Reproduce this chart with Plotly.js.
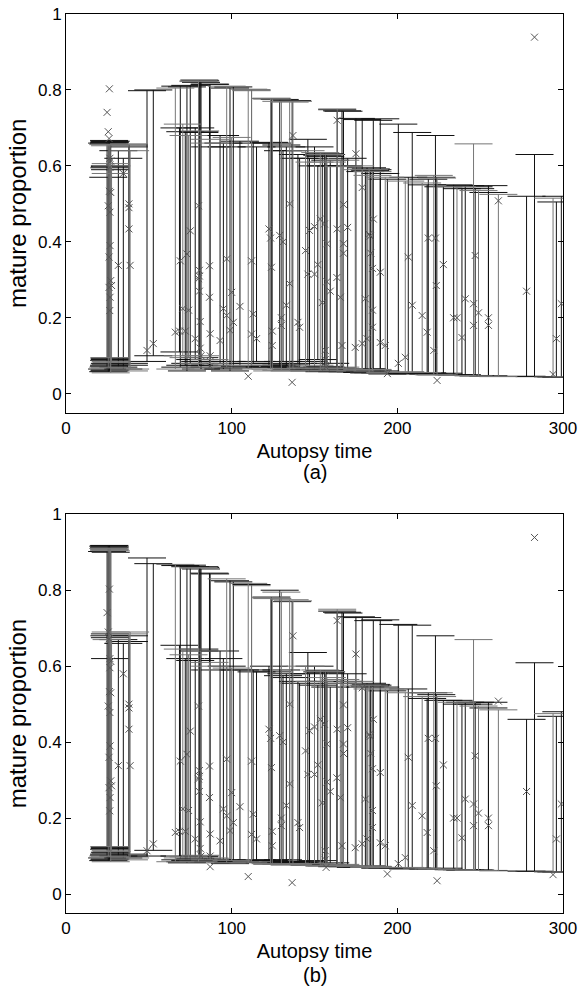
<!DOCTYPE html>
<html>
<head>
<meta charset="utf-8">
<script src="https://cdn.plot.ly/plotly-3.0.1.min.js"></script>
<style>html,body{margin:0;padding:0;background:#fff;}#chart{width:580px;height:989px;}</style>
</head>
<body>
<div id="chart"></div>
<script>
// Autopsy time of each individual
const autopsyTime = [
 26.2,24.8,25.5,26.0,26.5,27.0,26.5,26.2,27.0,25.5,26.5,26.6,26.0,27.0,27.5,26.0,26.6,26.4,
 31.6,34.6,38.0,38.0,38.0,38.7,
 48.9,52.7,
 66.0,68.5,69.0,70.5,72.0,73.0,74.0,75.0,78.0,
 80.0,80.5,80.5,80.0,80.5,81.0,81.0,81.5,86.6,86.6,87.0,87.0,87.0,
 93.0,95.0,97.0,97.0,99.0,100.0,101.0,105.0,110.0,112.0,113.0,112.0,115.0,
 122.5,123.5,124.0,124.5,124.5,129.0,131.0,130.0,130.0,133.0,135.0,135.0,136.5,137.0,140.0,141.0,
 144.6,146.0,147.0,150.0,150.0,152.0,153.5,154.7,156.0,156.5,156.5,157.0,157.5,157.5,159.5,
 163.7,163.5,163.7,165.6,166.6,167.5,167.5,167.5,170.0,
 174.6,175.0,178.8,178.8,180.7,181.7,183.0,183.6,184.0,185.0,185.0,185.5,185.0,189.7,189.7,192.7,194.0,
 200.6,204.8,206.6,209.0,215.0,218.0,218.7,222.0,223.0,223.5,224.0,227.8,
 234.0,236.0,239.0,241.0,246.0,246.0,247.0,249.0,255.0,255.0,261.0,
 278.0,282.8,294.0,296.0,299.0
];
// Observed mature proportion
const matureObs = [
 0.803,0.741,0.690,0.672,0.620,0.613,0.596,0.533,0.530,0.495,0.478,0.390,0.360,0.298,0.285,0.280,0.254,0.219,
 0.338,0.580,0.500,0.490,0.434,0.338,
 0.114,0.132,
 0.162,0.165,0.350,0.224,0.165,0.368,0.220,0.429,0.145,
 0.495,0.325,0.310,0.303,0.270,0.190,0.120,0.100,0.337,0.254,0.158,0.100,0.072,
 0.140,0.224,0.355,0.206,0.167,0.267,0.188,0.230,0.046,0.350,0.210,0.157,0.145,
 0.434,0.410,0.333,0.165,0.127,0.417,0.400,0.200,0.180,0.233,0.500,0.290,0.030,0.680,0.188,0.175,
 0.377,0.315,0.430,0.315,0.440,0.340,0.460,0.240,0.447,0.114,0.090,0.070,0.395,0.295,0.270,
 0.720,0.306,0.434,0.254,0.127,0.498,0.395,0.370,0.438,
 0.122,0.632,0.543,0.132,0.250,0.145,0.420,0.415,0.370,0.330,0.220,0.460,0.175,0.320,0.135,0.127,0.053,
 0.080,0.096,0.360,0.233,0.206,0.162,0.410,0.114,0.410,0.285,0.035,0.340,
 0.200,0.200,0.148,0.250,0.237,0.180,0.364,0.213,0.200,0.180,0.508,
 0.270,0.939,0.051,0.145,0.237
];
// Panel (a): interval lower / upper bounds
const lowerA = [
 0.060,0.065,0.070,0.075,0.080,0.085,0.090,0.094,0.055,0.058,0.062,0.068,0.072,0.078,0.082,0.088,0.092,0.095,
 0.070,0.065,0.060,0.075,0.080,0.065,
 0.085,0.100,
 0.065,0.110,0.070,0.100,0.075,0.060,0.095,0.080,0.090,
 0.070,0.075,0.095,0.080,0.090,0.085,0.100,0.065,0.070,0.090,0.075,0.085,0.080,
 0.080,0.065,0.070,0.085,0.060,0.075,0.068,0.072,0.065,0.070,0.080,0.075,0.085,
 0.075,0.065,0.070,0.080,0.060,0.072,0.085,0.062,0.075,0.068,0.060,0.078,0.064,0.066,0.080,0.070,
 0.070,0.085,0.060,0.075,0.065,0.090,0.062,0.070,0.058,0.066,0.072,0.064,0.060,0.068,0.080,
 0.062,0.068,0.058,0.070,0.064,0.060,0.066,0.062,0.058,
 0.060,0.058,0.056,0.064,0.060,0.066,0.054,0.058,0.056,0.060,0.062,0.055,0.064,0.054,0.060,0.056,0.052,
 0.055,0.058,0.052,0.054,0.056,0.055,0.052,0.050,0.050,0.052,0.050,0.054,
 0.050,0.048,0.050,0.048,0.047,0.048,0.048,0.046,0.046,0.047,0.045,
 0.046,0.045,0.044,0.044,0.043
];
const upperA = [
 0.664,0.660,0.656,0.667,0.662,0.606,0.600,0.595,0.580,0.570,0.598,0.653,0.658,0.665,0.600,0.661,0.590,0.657,
 0.640,0.620,0.658,0.655,0.650,0.640,
 0.798,0.800,
 0.805,0.700,0.810,0.710,0.690,0.808,0.680,0.812,0.700,
 0.824,0.826,0.690,0.822,0.688,0.824,0.692,0.820,0.815,0.660,0.815,0.650,0.670,
 0.680,0.660,0.810,0.650,0.805,0.675,0.808,0.665,0.802,0.800,0.660,0.798,0.650,
 0.662,0.777,0.778,0.660,0.776,0.775,0.640,0.770,0.655,0.650,0.768,0.640,0.772,0.770,0.630,0.620,
 0.640,0.670,0.620,0.610,0.650,0.600,0.635,0.628,0.632,0.630,0.625,0.630,0.610,0.600,0.615,
 0.750,0.600,0.748,0.615,0.745,0.600,0.598,0.744,0.620,
 0.600,0.725,0.722,0.590,0.585,0.595,0.590,0.588,0.592,0.585,0.590,0.720,0.575,0.724,0.580,0.570,0.565,
 0.710,0.560,0.570,0.688,0.555,0.550,0.565,0.575,0.680,0.570,0.568,0.545,
 0.550,0.545,0.540,0.548,0.658,0.545,0.540,0.535,0.548,0.530,0.525,
 0.520,0.630,0.515,0.505,0.520
];
// Panel (b): interval lower / upper bounds
const lowerB = [
 0.090,0.095,0.100,0.105,0.110,0.115,0.120,0.124,0.085,0.088,0.092,0.098,0.102,0.108,0.112,0.118,0.122,0.125,
 0.100,0.095,0.090,0.100,0.105,0.095,
 0.100,0.115,
 0.085,0.100,0.090,0.095,0.085,0.082,0.098,0.088,0.094,
 0.085,0.088,0.100,0.090,0.098,0.092,0.102,0.086,0.085,0.095,0.088,0.092,0.090,
 0.090,0.085,0.082,0.090,0.080,0.088,0.084,0.086,0.082,0.084,0.088,0.085,0.090,
 0.088,0.080,0.082,0.090,0.078,0.084,0.090,0.078,0.086,0.082,0.076,0.086,0.078,0.078,0.084,0.082,
 0.080,0.086,0.076,0.080,0.078,0.088,0.075,0.078,0.074,0.076,0.078,0.075,0.074,0.076,0.082,
 0.074,0.076,0.072,0.078,0.074,0.073,0.075,0.074,0.072,
 0.072,0.070,0.070,0.074,0.072,0.074,0.070,0.070,0.071,0.072,0.072,0.070,0.073,0.068,0.070,0.069,0.068,
 0.068,0.070,0.066,0.068,0.068,0.067,0.066,0.066,0.066,0.067,0.066,0.068,
 0.064,0.064,0.064,0.063,0.062,0.063,0.063,0.062,0.062,0.062,0.061,
 0.060,0.060,0.058,0.058,0.058
];
const upperB = [
 0.918,0.902,0.910,0.906,0.914,0.690,0.685,0.680,0.904,0.916,0.675,0.908,0.912,0.900,0.670,0.917,0.620,0.911,
 0.670,0.660,0.685,0.680,0.665,0.690,
 0.885,0.870,
 0.868,0.655,0.865,0.645,0.620,0.866,0.630,0.862,0.615,
 0.860,0.862,0.640,0.858,0.645,0.860,0.640,0.856,0.845,0.610,0.843,0.590,0.600,
 0.640,0.620,0.830,0.600,0.825,0.595,0.822,0.590,0.818,0.815,0.590,0.812,0.585,
 0.600,0.780,0.782,0.585,0.778,0.800,0.575,0.795,0.590,0.580,0.775,0.570,0.770,0.772,0.560,0.555,
 0.600,0.636,0.580,0.560,0.600,0.550,0.590,0.585,0.588,0.586,0.582,0.585,0.570,0.560,0.545,
 0.750,0.555,0.745,0.565,0.742,0.560,0.555,0.740,0.580,
 0.560,0.730,0.728,0.550,0.545,0.555,0.550,0.548,0.552,0.545,0.550,0.720,0.540,0.722,0.545,0.540,0.535,
 0.710,0.530,0.540,0.708,0.520,0.515,0.530,0.530,0.680,0.525,0.520,0.510,
 0.510,0.505,0.500,0.505,0.670,0.500,0.505,0.495,0.505,0.490,0.485,
 0.460,0.609,0.475,0.468,0.480
];

const FONT = 'Liberation Sans, Arial, Helvetica, sans-serif';
const DARK = '#111111', GRAY = '#767676';

function intervalTraces(lo, hi, xa, ya) {
  const out = [];
  [1, 0].forEach(function (dark) {
    const xs = [], ys = [], up = [];
    for (let i = 0; i < autopsyTime.length; i++) {
      const isDark = (i % 3 !== 2) ? 1 : 0;
      if (isDark !== dark) continue;
      xs.push(autopsyTime[i]); ys.push(lo[i]); up.push(hi[i] - lo[i]);
    }
    out.push({
      type: 'scatter', mode: 'markers', x: xs, y: ys, xaxis: xa, yaxis: ya,
      marker: {size: 1, opacity: 0}, hoverinfo: 'skip', showlegend: false,
      error_y: {type: 'data', symmetric: false, array: up, arrayminus: ys.map(function () { return 0; }),
                color: dark ? DARK : GRAY, thickness: 1, width: 19}
    });
  });
  return out;
}
function markerTrace(xa, ya) {
  return {
    type: 'scatter', mode: 'markers', x: autopsyTime, y: matureObs, xaxis: xa, yaxis: ya,
    showlegend: false,
    marker: {symbol: 'x-thin', size: 7, color: '#555', line: {width: 1, color: '#555'}}
  };
}

const data = [].concat(
  intervalTraces(lowerA, upperA, 'x', 'y'), [markerTrace('x', 'y')],
  intervalTraces(lowerB, upperB, 'x2', 'y2'), [markerTrace('x2', 'y2')]
);

function xAxis(anchor) {
  return {
    anchor: anchor, domain: [0, 1], range: [0, 300], tickmode: 'linear', tick0: 0, dtick: 100,
    showgrid: false, zeroline: false, showline: true, linecolor: '#000', linewidth: 1,
    mirror: 'ticks', ticks: 'inside', ticklen: 5, tickcolor: '#000', tickwidth: 1,
    tickfont: {family: FONT, size: 17, color: '#000'},
    title: {text: 'Autopsy time', font: {family: FONT, size: 20, color: '#000'}, standoff: 6}
  };
}
function yAxis(anchor, dom) {
  return {
    anchor: anchor, domain: dom, range: [-0.05, 1], tickmode: 'linear', tick0: 0, dtick: 0.2,
    showgrid: false, zeroline: false, showline: true, linecolor: '#000', linewidth: 1,
    mirror: 'ticks', ticks: 'inside', ticklen: 5, tickcolor: '#000', tickwidth: 1,
    tickfont: {family: FONT, size: 17, color: '#000'},
    title: {text: 'mature proportion', font: {family: FONT, size: 24, color: '#000'}, standoff: 4}
  };
}

const layout = {
  width: 580, height: 989,
  margin: {l: 66, r: 17, t: 14, b: 76},
  paper_bgcolor: '#fff', plot_bgcolor: '#fff',
  font: {family: FONT, color: '#000'},
  xaxis: xAxis('y'),
  yaxis: yAxis('x', [0.5565, 1]),
  xaxis2: xAxis('y2'),
  yaxis2: yAxis('x2', [0, 0.4435]),
  annotations: [
    {text: '(a)', xref: 'paper', yref: 'paper', x: 0.5, y: 0.4905, showarrow: false,
     xanchor: 'center', yanchor: 'middle', font: {family: FONT, size: 20, color: '#000'}},
    {text: '(b)', xref: 'paper', yref: 'paper', x: 0.5, y: -0.069, showarrow: false,
     xanchor: 'center', yanchor: 'middle', font: {family: FONT, size: 20, color: '#000'}}
  ]
};

Plotly.newPlot('chart', data, layout, {displayModeBar: false, staticPlot: true});
</script>
</body>
</html>
